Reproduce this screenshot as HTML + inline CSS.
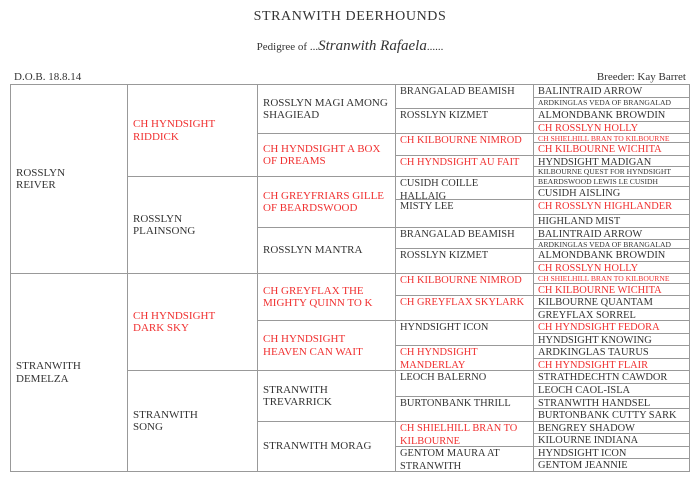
<!DOCTYPE html>
<html><head><meta charset="utf-8"><style>
body{margin:0;width:700px;height:486px;background:#fff;position:relative;overflow:hidden;font-family:"Liberation Serif",serif;color:#333}
.c{position:absolute;box-sizing:border-box;border:1px solid #999;font-size:11px;line-height:12.5px;padding:0 5px;background:#fff}
.m{display:flex;align-items:center}
.t{padding-top:1px;font-size:10.4px;line-height:12.5px;padding-left:4px;padding-right:2px}
.n{white-space:nowrap}
.r{color:#f03030}
.s{font-size:7.6px;line-height:9px;padding-top:0;padding-left:4px;white-space:nowrap}
</style></head><body>
<div style="position:absolute;top:9px;left:0;width:700px;text-align:center;font-size:14px;letter-spacing:0.6px">STRANWITH DEERHOUNDS</div>
<div style="position:absolute;top:38px;left:0;width:700px;text-align:center;font-size:11px">Pedigree of ...<span style="font-style:italic;font-size:15px">Stranwith Rafaela</span>......</div>
<div style="position:absolute;top:71px;left:14px;font-size:11px">D.O.B. 18.8.14</div>
<div style="position:absolute;top:71px;right:14px;font-size:11px">Breeder: Kay Barret</div>

<div class="c m" style="left:10px;top:84px;width:118px;height:190px">ROSSLYN<br>REIVER</div>
<div class="c m" style="left:10px;top:273px;width:118px;height:199px">STRANWITH<br>DEMELZA</div>
<div class="c m r" style="left:127px;top:84px;width:131px;height:93px">CH HYNDSIGHT<br>RIDDICK</div>
<div class="c m" style="left:127px;top:176px;width:131px;height:98px">ROSSLYN<br>PLAINSONG</div>
<div class="c m r" style="left:127px;top:273px;width:131px;height:98px">CH HYNDSIGHT<br>DARK SKY</div>
<div class="c m" style="left:127px;top:370px;width:131px;height:102px">STRANWITH<br>SONG</div>
<div class="c m" style="left:257px;top:84px;width:139px;height:50px">ROSSLYN MAGI AMONG SHAGIEAD</div>
<div class="c m r" style="left:257px;top:133px;width:139px;height:44px">CH HYNDSIGHT A BOX OF DREAMS</div>
<div class="c m r" style="left:257px;top:176px;width:139px;height:52px">CH GREYFRIARS GILLE OF BEARDSWOOD</div>
<div class="c m" style="left:257px;top:227px;width:139px;height:47px">ROSSLYN MANTRA</div>
<div class="c m r" style="left:257px;top:273px;width:139px;height:48px">CH GREYFLAX THE MIGHTY QUINN TO K</div>
<div class="c m r" style="left:257px;top:320px;width:139px;height:51px">CH HYNDSIGHT HEAVEN CAN WAIT</div>
<div class="c m" style="left:257px;top:370px;width:139px;height:52px">STRANWITH<br>TREVARRICK</div>
<div class="c m" style="left:257px;top:421px;width:139px;height:51px">STRANWITH MORAG</div>

<div class="c t n" style="left:395px;top:84px;width:139px;height:25px">BRANGALAD BEAMISH</div>
<div class="c t n" style="left:395px;top:108px;width:139px;height:26px">ROSSLYN KIZMET</div>
<div class="c t n r" style="left:395px;top:133px;width:139px;height:23px">CH KILBOURNE NIMROD</div>
<div class="c t n r" style="left:395px;top:155px;width:139px;height:22px">CH HYNDSIGHT AU FAIT</div>
<div class="c t" style="left:395px;top:176px;width:139px;height:24px">CUSIDH COILLE<br>HALLAIG</div>
<div class="c t n" style="left:395px;top:199px;width:139px;height:29px">MISTY LEE</div>
<div class="c t n" style="left:395px;top:227px;width:139px;height:22px">BRANGALAD BEAMISH</div>
<div class="c t n" style="left:395px;top:248px;width:139px;height:26px">ROSSLYN KIZMET</div>
<div class="c t n r" style="left:395px;top:273px;width:139px;height:23px">CH KILBOURNE NIMROD</div>
<div class="c t n r" style="left:395px;top:295px;width:139px;height:26px">CH GREYFLAX SKYLARK</div>
<div class="c t n" style="left:395px;top:320px;width:139px;height:26px">HYNDSIGHT ICON</div>
<div class="c t r" style="left:395px;top:345px;width:139px;height:26px">CH HYNDSIGHT<br>MANDERLAY</div>
<div class="c t n" style="left:395px;top:370px;width:139px;height:27px">LEOCH BALERNO</div>
<div class="c t n" style="left:395px;top:396px;width:139px;height:26px">BURTONBANK THRILL</div>
<div class="c t r" style="left:395px;top:421px;width:139px;height:26px">CH SHIELHILL BRAN TO<br>KILBOURNE</div>
<div class="c t" style="left:395px;top:446px;width:139px;height:26px">GENTOM MAURA AT<br>STRANWITH</div>

<div class="c t n" style="left:533px;top:84px;width:157px;height:14px">BALINTRAID ARROW</div>
<div class="c s" style="left:533px;top:97px;width:157px;height:12px">ARDKINGLAS VEDA OF BRANGALAD</div>
<div class="c t n" style="left:533px;top:108px;width:157px;height:14px">ALMONDBANK BROWDIN</div>
<div class="c t n r" style="left:533px;top:121px;width:157px;height:13px">CH ROSSLYN HOLLY</div>
<div class="c s r" style="left:533px;top:133px;width:157px;height:10px">CH SHIELHILL BRAN TO KILBOURNE</div>
<div class="c t n r" style="left:533px;top:142px;width:157px;height:14px">CH KILBOURNE WICHITA</div>
<div class="c t n" style="left:533px;top:155px;width:157px;height:12px">HYNDSIGHT MADIGAN</div>
<div class="c s" style="left:533px;top:166px;width:157px;height:11px">KILBOURNE QUEST FOR HYNDSIGHT</div>
<div class="c s" style="left:533px;top:176px;width:157px;height:11px">BEARDSWOOD LEWIS LE CUSIDH</div>
<div class="c t n" style="left:533px;top:186px;width:157px;height:14px">CUSIDH AISLING</div>
<div class="c t n r" style="left:533px;top:199px;width:157px;height:16px">CH ROSSLYN HIGHLANDER</div>
<div class="c t n" style="left:533px;top:214px;width:157px;height:14px">HIGHLAND MIST</div>
<div class="c t n" style="left:533px;top:227px;width:157px;height:13px">BALINTRAID ARROW</div>
<div class="c s" style="left:533px;top:239px;width:157px;height:10px">ARDKINGLAS VEDA OF BRANGALAD</div>
<div class="c t n" style="left:533px;top:248px;width:157px;height:14px">ALMONDBANK BROWDIN</div>
<div class="c t n r" style="left:533px;top:261px;width:157px;height:13px">CH ROSSLYN HOLLY</div>
<div class="c s r" style="left:533px;top:273px;width:157px;height:11px">CH SHIELHILL BRAN TO KILBOURNE</div>
<div class="c t n r" style="left:533px;top:283px;width:157px;height:13px">CH KILBOURNE WICHITA</div>
<div class="c t n" style="left:533px;top:295px;width:157px;height:14px">KILBOURNE QUANTAM</div>
<div class="c t n" style="left:533px;top:308px;width:157px;height:13px">GREYFLAX SORREL</div>
<div class="c t n r" style="left:533px;top:320px;width:157px;height:14px">CH HYNDSIGHT FEDORA</div>
<div class="c t n" style="left:533px;top:333px;width:157px;height:13px">HYNDSIGHT KNOWING</div>
<div class="c t n" style="left:533px;top:345px;width:157px;height:14px">ARDKINGLAS TAURUS</div>
<div class="c t n r" style="left:533px;top:358px;width:157px;height:13px">CH HYNDSIGHT FLAIR</div>
<div class="c t n" style="left:533px;top:370px;width:157px;height:14px">STRATHDECHTN CAWDOR</div>
<div class="c t n" style="left:533px;top:383px;width:157px;height:14px">LEOCH CAOL-ISLA</div>
<div class="c t n" style="left:533px;top:396px;width:157px;height:13px">STRANWITH HANDSEL</div>
<div class="c t n" style="left:533px;top:408px;width:157px;height:14px">BURTONBANK CUTTY SARK</div>
<div class="c t n" style="left:533px;top:421px;width:157px;height:13px">BENGREY SHADOW</div>
<div class="c t n" style="left:533px;top:433px;width:157px;height:14px">KILOURNE INDIANA</div>
<div class="c t n" style="left:533px;top:446px;width:157px;height:13px">HYNDSIGHT ICON</div>
<div class="c t n" style="left:533px;top:458px;width:157px;height:14px">GENTOM JEANNIE</div>
</body></html>
